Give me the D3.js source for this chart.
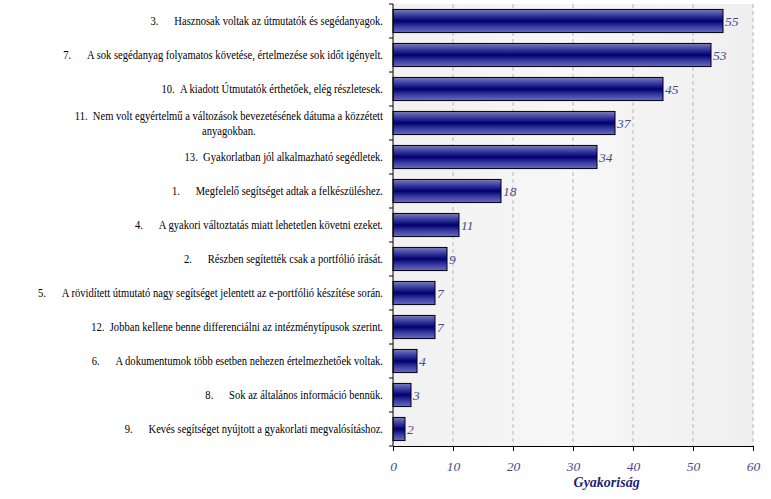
<!DOCTYPE html>
<html><head><meta charset="utf-8">
<script src="https://cdn.jsdelivr.net/npm/d3@7"></script>
<style>
html,body{margin:0;padding:0;background:#fff;}
svg{display:block;}
</style></head>
<body>
<svg id="chart" width="771" height="499" font-family="Liberation Serif"></svg>
<script>
const categories = [
  ["3.\u00a0\u00a0\u00a0\u00a0\u00a0\u00a0Hasznosak voltak az útmutatók és segédanyagok."],
  ["7.\u00a0\u00a0\u00a0\u00a0\u00a0\u00a0A sok segédanyag folyamatos követése, értelmezése sok időt igényelt."],
  ["10.\u00a0\u00a0A kiadott Útmutatók érthetőek, elég részletesek."],
  ["11.\u00a0\u00a0Nem volt egyértelmű a változások bevezetésének dátuma a közzétett", "anyagokban."],
  ["13.\u00a0\u00a0Gyakorlatban jól alkalmazható segédletek."],
  ["1.\u00a0\u00a0\u00a0\u00a0\u00a0\u00a0Megfelelő segítséget adtak a felkészüléshez."],
  ["4.\u00a0\u00a0\u00a0\u00a0\u00a0\u00a0A gyakori változtatás miatt lehetetlen követni ezeket."],
  ["2.\u00a0\u00a0\u00a0\u00a0\u00a0\u00a0Részben segítették csak a portfólió írását."],
  ["5.\u00a0\u00a0\u00a0\u00a0\u00a0\u00a0A rövidített útmutató nagy segítséget jelentett az e-portfólió készítése során."],
  ["12.\u00a0\u00a0Jobban kellene benne differenciálni az intézménytípusok szerint."],
  ["6.\u00a0\u00a0\u00a0\u00a0\u00a0\u00a0A dokumentumok több esetben nehezen értelmezhetőek voltak."],
  ["8.\u00a0\u00a0\u00a0\u00a0\u00a0\u00a0Sok az általános információ bennük."],
  ["9.\u00a0\u00a0\u00a0\u00a0\u00a0\u00a0Kevés segítséget nyújtott a gyakorlati megvalósításhoz."]
];
const values = [55, 53, 45, 37, 34, 18, 11, 9, 7, 7, 4, 3, 2];
const xTicks = [0, 10, 20, 30, 40, 50, 60];
const xTitle = "Gyakoriság";

const svg = d3.select("#chart");
const m = {left: 393, right: 18, top: 4, bottom: 53};
const W = 771, H = 499;
const x = d3.scaleLinear().domain([0, 60]).range([m.left, W - m.right]);
const y = d3.scaleBand().domain(d3.range(values.length)).range([m.top, H - m.bottom]).paddingInner(0.32).paddingOuter(0.16);
const yb = d3.scaleBand().domain(d3.range(values.length)).range([m.top, H - m.bottom]);

const defs = svg.append("defs");
const g = defs.append("linearGradient").attr("id", "barGrad").attr("x1", 0).attr("y1", 0).attr("x2", 0).attr("y2", 1);
[[0, "#7a7cc4"], [0.25, "#3a3ca0"], [0.5, "#00006e"], [0.75, "#3a3ca0"], [1, "#6a6cbc"]].forEach(([o, c]) =>
  g.append("stop").attr("offset", o).attr("stop-color", c));
const bg = defs.append("linearGradient").attr("id", "bgGrad").attr("x1", 0).attr("y1", 0).attr("x2", 1).attr("y2", 0);
[[0, "#f1f1f1"], [0.5, "#f7f7f7"], [1, "#efefef"]].forEach(([o, c]) =>
  bg.append("stop").attr("offset", o).attr("stop-color", c));

// plot background
svg.append("rect").attr("x", x(0)).attr("y", m.top).attr("width", x(60) - x(0)).attr("height", H - m.bottom - m.top)
  .attr("fill", "url(#bgGrad)");

// grid
svg.append("g").selectAll("line").data(xTicks.filter(d => d > 0)).join("line")
  .attr("x1", d => x(d)).attr("x2", d => x(d)).attr("y1", m.top).attr("y2", H - m.bottom)
  .attr("stroke", "#b8b8b8").attr("stroke-dasharray", "4,3").attr("stroke-width", 1);

// bars
svg.append("g").selectAll("rect").data(values).join("rect")
  .attr("x", x(0)).attr("y", (d, i) => y(i)).attr("width", d => x(d) - x(0)).attr("height", y.bandwidth())
  .attr("fill", "url(#barGrad)").attr("stroke", "#000").attr("stroke-width", 1);

// value labels
svg.append("g").selectAll("text").data(values).join("text")
  .attr("x", d => x(d) + 2).attr("y", (d, i) => y(i) + y.bandwidth() / 2 + 5)
  .attr("font-family", "Liberation Serif").attr("font-size", 13.5).attr("font-style", "italic").attr("fill", "#4a4a8c").text(d => d);

// y axis
const yAxis = svg.append("g").attr("transform", `translate(${x(0)},0)`);
yAxis.append("line").attr("x1", 0).attr("x2", 0).attr("y1", m.top).attr("y2", H - m.bottom).attr("stroke", "#000");
yAxis.selectAll("line.t").data(d3.range(values.length + 1)).join("line").attr("class", "t")
  .attr("x1", -4).attr("x2", 0)
  .attr("y1", i => i < values.length ? yb(i) : H - m.bottom).attr("y2", i => i < values.length ? yb(i) : H - m.bottom)
  .attr("stroke", "#000");

// category labels (horizontally condensed like the original)
const endX = x(0) - 10;
const labG = svg.append("g").attr("transform", `translate(${endX},0) scale(0.88,1)`);
categories.forEach((lines, i) => {
  const cy = yb(i) + yb.bandwidth() / 2;
  if (lines.length === 1) {
    labG.append("text").attr("x", 0).attr("y", cy + 4).attr("text-anchor", "end")
      .attr("font-family", "Liberation Serif").attr("font-size", 12).attr("fill", "#000").text(lines[0]);
  } else {
    const t1 = labG.append("text").attr("x", 0).attr("y", cy - 3).attr("text-anchor", "end")
      .attr("font-family", "Liberation Serif").attr("font-size", 12).attr("fill", "#000").text(lines[0]);
    const w1 = t1.node().getComputedTextLength();
    labG.append("text").attr("x", -w1 / 2).attr("y", cy + 12).attr("text-anchor", "middle")
      .attr("font-family", "Liberation Serif").attr("font-size", 12).attr("fill", "#000").text(lines[1]);
  }
});

// x axis
const xAxis = d3.axisBottom(x).tickValues(xTicks).tickSize(5).tickSizeOuter(0);
const xg = svg.append("g").attr("transform", `translate(0,${H - m.bottom})`).call(xAxis);
xg.attr("font-family", "Liberation Serif");
xg.select(".domain").attr("stroke", "#000");
xg.selectAll(".tick line").attr("stroke", "#000");
xg.selectAll(".tick text").attr("font-family", "Liberation Serif").attr("font-size", 13.5)
  .attr("font-style", "italic").attr("fill", "#4a4a8c").attr("dy", "1.25em");

svg.append("text").attr("x", x(35.6)).attr("y", H - 12).attr("text-anchor", "middle")
  .attr("font-family", "Liberation Serif")
  .attr("font-size", 14).attr("font-weight", "bold").attr("font-style", "italic").attr("fill", "#1f1f6e").text(xTitle);
</script>
</body></html>
